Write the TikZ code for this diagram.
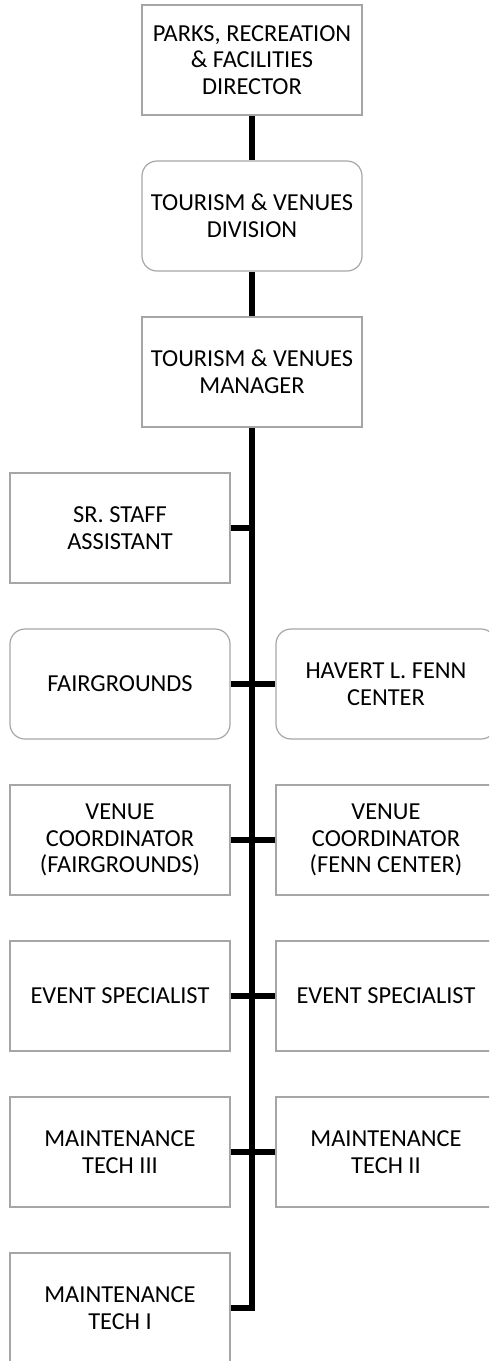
\documentclass[tikz,border=0pt]{standalone}
\usepackage{fontspec}
\setmainfont{Carlito}
\definecolor{boxgray}{HTML}{A6A6A6}
\begin{document}
\begin{tikzpicture}[x=0.5pt, y=-0.5pt,
  box/.style={draw=boxgray, line width=0.6pt, minimum width=110pt, minimum height=55pt,
    inner sep=0pt, align=center, font=\fontsize{12.2pt}{13.4pt}\selectfont},
  unit/.style={box, rounded corners=7.5pt},
  link/.style={line width=3pt}]
  \useasboundingbox (0,0) rectangle (489,1361);
  \clip (0,0) rectangle (489,1361);
  % top of the chart
  \node[box] (director) at (252,60) {PARKS, RECREATION\\ \& FACILITIES\\ DIRECTOR};
  \node[unit] (division) at (252,216) {TOURISM \& VENUES\\ DIVISION};
  \node[box] (manager) at (252,372) {TOURISM \& VENUES\\ MANAGER};
  % left column
  \node[box] (staff) at (120,528) {SR. STAFF\\ ASSISTANT};
  \node[unit] (fair) at (120,684) {FAIRGROUNDS};
  \node[box] (coordfair) at (120,840) {VENUE\\ COORDINATOR\\ (FAIRGROUNDS)};
  \node[box] (eventl) at (120,996) {EVENT SPECIALIST};
  \node[box] (techiii) at (120,1152) {MAINTENANCE\\ TECH III};
  \node[box] (techi) at (120,1308) {MAINTENANCE\\ TECH I};
  % right column
  \node[unit] (fenn) at (386,684) {HAVERT L. FENN\\ CENTER};
  \node[box] (coordfenn) at (386,840) {VENUE\\ COORDINATOR\\ (FENN CENTER)};
  \node[box] (eventr) at (386,996) {EVENT SPECIALIST};
  \node[box] (techii) at (386,1152) {MAINTENANCE\\ TECH II};
  % spine
  \coordinate (spineend) at (manager.south |- techi.east);
  \draw[link] (director.south) -- (division.north);
  \draw[link] (division.south) -- (manager.north);
  \draw[link] (manager.south) -- (spineend) -- (techi.east);
  % branches
  \draw[link] (staff.east) -- (staff.east -| manager.south);
  \draw[link] (fair.east) -- (fenn.west);
  \draw[link] (coordfair.east) -- (coordfenn.west);
  \draw[link] (eventl.east) -- (eventr.west);
  \draw[link] (techiii.east) -- (techii.west);
\end{tikzpicture}
\end{document}
